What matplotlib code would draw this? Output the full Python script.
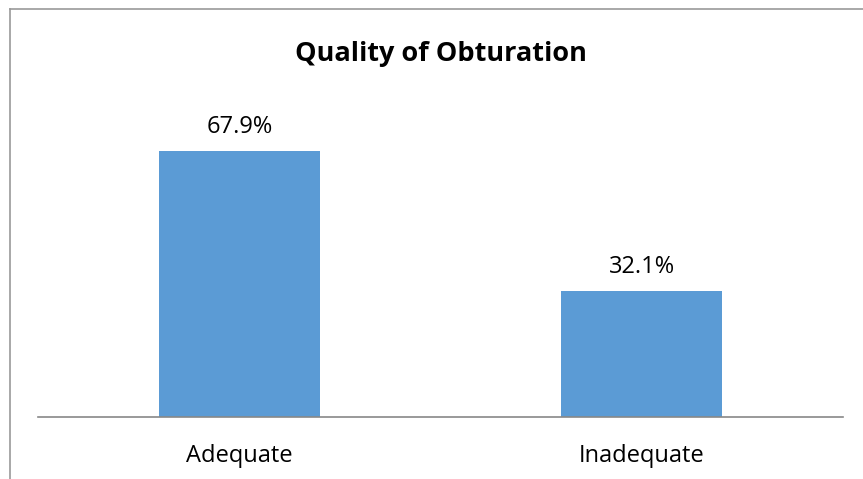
import matplotlib
matplotlib.use("Agg")
import matplotlib.pyplot as plt
from matplotlib.lines import Line2D

categories = ["Adequate", "Inadequate"]
values = [67.9, 32.1]
value_labels = ["67.9%", "32.1%"]

plt.rcParams["font.family"] = ["Open Sans", "DejaVu Sans"]

W, H = 863, 479
fig = plt.figure(figsize=(W / 100, H / 100), dpi=100)
ax = fig.add_axes([38 / W, (H - 417) / H, (843 - 38) / W, (417 - 104) / H])

x = range(len(categories))
bars = ax.bar(x, values, width=0.4, color="#5b9bd5")
for b, lab in zip(bars, value_labels):
    ax.text(b.get_x() + b.get_width() / 2, b.get_height() + 4.6, lab,
            ha="center", va="baseline", fontsize=17)

ax.set_xlim(-0.5, 1.5)
ax.set_ylim(0, 80)
ax.set_xticks(list(x))
ax.set_xticklabels(categories, fontsize=17)
ax.tick_params(axis="x", length=0, pad=32.4)
for t in ax.get_xticklabels():
    t.set_va("baseline")
ax.set_yticks([])
for s in ["top", "right", "left"]:
    ax.spines[s].set_visible(False)
ax.spines["bottom"].set_color("#888888")
ax.spines["bottom"].set_linewidth(1.2)

fig.text(440.5 / W, 1 - 61 / H, "Quality of Obturation", ha="center", va="baseline",
         fontsize=19.5, fontweight="bold")

# chart frame, partly cropped
fig.add_artist(Line2D([9.5 / W, 9.5 / W], [0, 1 - 9 / H], color="#999999", lw=1.2))
fig.add_artist(Line2D([9.5 / W, 1], [1 - 9 / H, 1 - 9 / H], color="#999999", lw=1.2))

fig.savefig("out.png", dpi=100)
